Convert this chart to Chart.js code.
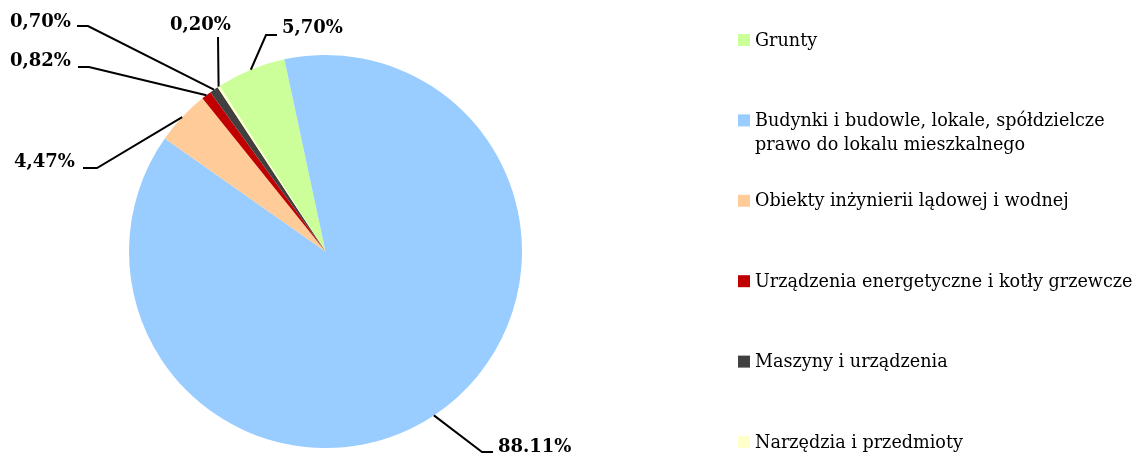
<!DOCTYPE html>
<html>
<head>
<meta charset="utf-8">
<script src="https://cdn.jsdelivr.net/npm/chart.js@4.4.1/dist/chart.umd.min.js"></script>
<style>
  html, body { margin: 0; padding: 0; background: #fff; }
  #wrap { position: relative; width: 1137px; height: 455px; }
</style>
</head>
<body>
<div id="wrap"><canvas id="pieChart"></canvas></div>
<script>
// data
const categories = [
    'Grunty',
    ['Budynki i budowle, lokale, spółdzielcze', 'prawo do lokalu mieszkalnego'],
    'Obiekty inżynierii lądowej i wodnej',
    'Urządzenia energetyczne i kotły grzewcze',
    'Maszyny i urządzenia',
    'Narzędzia i przedmioty'
];
const shares = [5.70, 88.11, 4.47, 0.82, 0.70, 0.20];
const shareLabels = ['5,70%', '88.11%', '4,47%', '0,82%', '0,70%', '0,20%'];
const colors = ['#CCFF99', '#99CCFF', '#FFCC99', '#C00000', '#404040', '#FFFFCC'];

// where each percentage label sits: elbow, end of leader, text left x / middle y
const labelSpots = [
    { elbow: [266, 35], end: [277, 35], tx: 282, ty: 28 },
    { elbow: [482, 452], end: [493, 452], tx: 498, ty: 447 },
    { elbow: [97, 168], end: [83, 168], tx: 14, ty: 162 },
    { elbow: [89, 67], end: [78, 67], tx: 10, ty: 61 },
    { elbow: [88, 26], end: [77, 26], tx: 10, ty: 22 },
    { elbow: [218, 37], end: [218, 37], tx: 170, ty: 25 }
];

const serif = '"DejaVu Serif", "Liberation Serif", serif';

const leaderLabels = {
    id: 'leaderLabels',
    afterDatasetsDraw(chart) {
        const c = chart.ctx;
        const arcs = chart.getDatasetMeta(0).data;
        c.save();
        c.strokeStyle = '#000';
        c.lineWidth = 2;
        c.fillStyle = '#000';
        c.font = 'bold 18px ' + serif;
        c.textBaseline = 'middle';
        arcs.forEach((arc, i) => {
            const p = arc.getProps(['x', 'y', 'startAngle', 'endAngle', 'outerRadius'], true);
            const mid = (p.startAngle + p.endAngle) / 2;
            const sx = p.x + Math.cos(mid) * p.outerRadius;
            const sy = p.y + Math.sin(mid) * p.outerRadius;
            const s = labelSpots[i];
            c.beginPath();
            c.moveTo(sx, sy);
            c.lineTo(s.elbow[0], s.elbow[1]);
            c.lineTo(s.end[0], s.end[1]);
            c.stroke();
            c.textAlign = 'left';
            c.fillText(shareLabels[i], s.tx, s.ty);
        });
        c.restore();
    }
};

const sideLegend = {
    id: 'sideLegend',
    afterDraw(chart) {
        const c = chart.ctx;
        c.save();
        c.font = '17.6px ' + serif;
        c.textBaseline = 'middle';
        c.textAlign = 'left';
        categories.forEach((name, i) => {
            const y = 40 + i * 80.4;
            c.fillStyle = colors[i];
            c.fillRect(738, y - 6, 12, 12);
            c.fillStyle = '#000';
            const lines = Array.isArray(name) ? name : [name];
            lines.forEach((ln, k) => c.fillText(ln, 755, y + 1 + k * 24.5));
        });
        c.restore();
    }
};

document.addEventListener('DOMContentLoaded', function() {
    const ctx = document.getElementById('pieChart').getContext('2d');
    new Chart(ctx, {
        type: 'pie',
        data: {
            labels: categories,
            datasets: [{
                data: shares,
                backgroundColor: colors,
                borderWidth: 0
            }]
        },
        options: {
            responsive: true,
            maintainAspectRatio: false,
            animation: false,
            rotation: -32.6,
            layout: {
                padding: { left: 129, right: 615, top: 55, bottom: 7 }
            },
            plugins: {
                legend: { display: false },
                tooltip: { enabled: false }
            }
        },
        plugins: [leaderLabels, sideLegend]
    });
});
</script>
</body>
</html>
